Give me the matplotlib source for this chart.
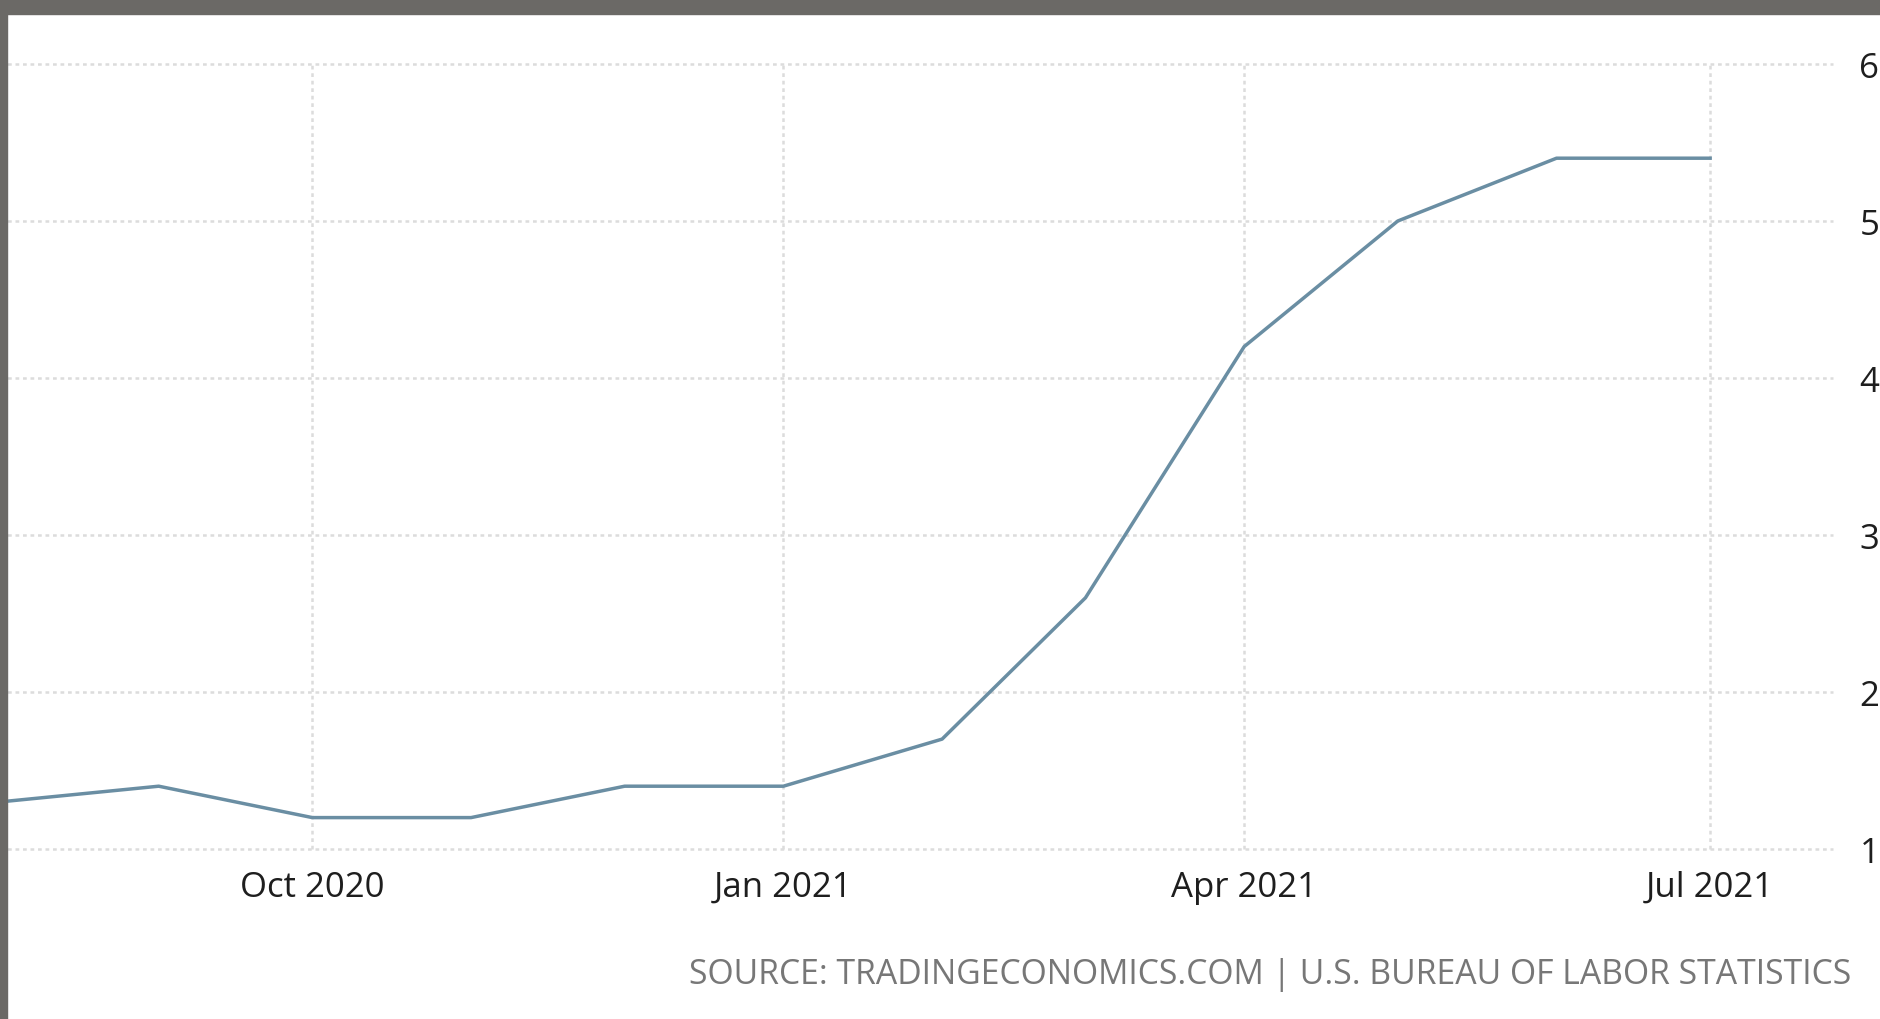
import matplotlib
matplotlib.use("Agg")
import matplotlib.pyplot as plt
import datetime as dt
from matplotlib.patches import Rectangle

months = ["2020-08-01", "2020-09-01", "2020-10-01", "2020-11-01", "2020-12-01",
          "2021-01-01", "2021-02-01", "2021-03-01", "2021-04-01", "2021-05-01",
          "2021-06-01", "2021-07-01"]
values = [1.3, 1.4, 1.2, 1.2, 1.4, 1.4, 1.7, 2.6, 4.2, 5.0, 5.4, 5.4]
xtick_dates = ["2020-10-01", "2021-01-01", "2021-04-01", "2021-07-01"]
xtick_labels = ["Oct 2020", "Jan 2021", "Apr 2021", "Jul 2021"]
yticks = [1, 2, 3, 4, 5, 6]
source_text = "SOURCE: TRADINGECONOMICS.COM | U.S. BUREAU OF LABOR STATISTICS"

plt.rcParams['font.family'] = ['Open Sans', 'DejaVu Sans']

W, H = 1881, 1020
fig = plt.figure(figsize=(W / 100, H / 100), dpi=100)
fig.patch.set_facecolor("white")

ax_left, ax_right = 0, 1833
ax_top, ax_bot = 65, 850
ax = fig.add_axes([ax_left / W, (H - ax_bot) / H, (ax_right - ax_left) / W, (ax_bot - ax_top) / H])
ax.set_facecolor("white")

x = [dt.datetime.fromisoformat(m) for m in months]
ax.plot(x, values, color="#6a8ea3", lw=2.5, solid_joinstyle="round", zorder=3, clip_on=False)

ax.set_xlim(dt.datetime(2020, 8, 1), dt.datetime(2021, 7, 25))
ax.set_ylim(1, 6)

ax.set_xticks([dt.datetime.fromisoformat(d) for d in xtick_dates])
ax.set_xticklabels(xtick_labels)
ax.set_yticks(yticks)
ax.yaxis.tick_right()
ax.tick_params(axis="both", length=0, labelsize=25, colors="#1e1e1e")
ax.tick_params(axis="x", pad=15)
ax.tick_params(axis="y", pad=19)
for lbl in ax.get_yticklabels():
    lbl.set_horizontalalignment("left")

ax.grid(True, color="#dcdcdc", linestyle=(0, (1.5, 1.5)), linewidth=1.8, zorder=0)
for gl in ax.get_xgridlines() + ax.get_ygridlines():
    gl.set_clip_on(False)
for s in ax.spines.values():
    s.set_visible(False)

fig.text(1851 / W, 1 - 975 / H, source_text, ha="right", va="center",
         fontsize=24.3, color="#777777")

# gray frame border (top and left)
fig.patches.append(Rectangle((0, 1 - 15 / H), 1, 15 / H, transform=fig.transFigure,
                             color="#6b6966", zorder=10))
fig.patches.append(Rectangle((0, 0), 7 / W, 1, transform=fig.transFigure,
                             color="#6b6966", zorder=10))

fig.savefig("out.png", dpi=100)
